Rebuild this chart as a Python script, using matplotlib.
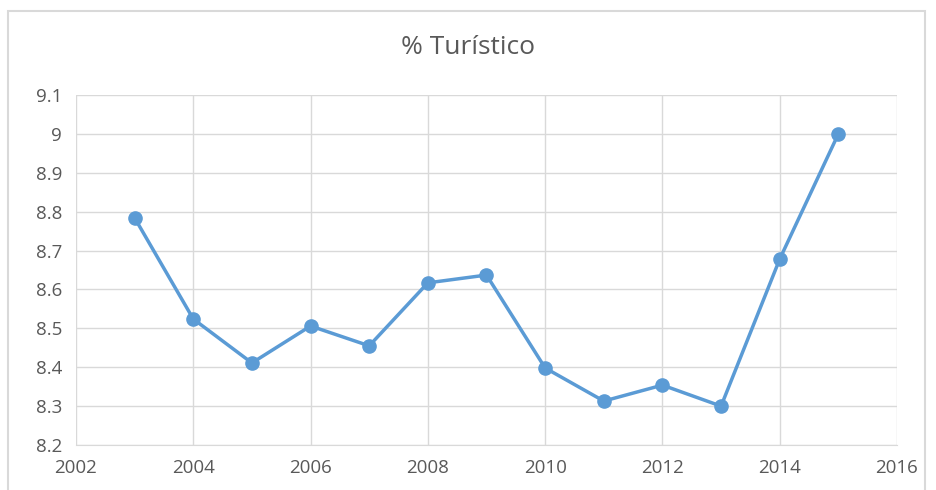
import matplotlib
matplotlib.use('Agg')
import matplotlib.pyplot as plt
from matplotlib.patches import Rectangle

# Data
years = [2003, 2004, 2005, 2006, 2007, 2008, 2009, 2010, 2011, 2012, 2013, 2014, 2015]
pct_turistico = [8.784, 8.524, 8.411, 8.506, 8.455, 8.617, 8.637, 8.398, 8.313, 8.354, 8.300, 8.678, 9.0]
x_ticks = [2002, 2004, 2006, 2008, 2010, 2012, 2014, 2016]
y_ticks = [8.2, 8.3, 8.4, 8.5, 8.6, 8.7, 8.8, 8.9, 9.0, 9.1]
y_tick_labels = ['8.2', '8.3', '8.4', '8.5', '8.6', '8.7', '8.8', '8.9', '9', '9.1']

LINE_COLOR = '#5B9BD5'
TEXT_COLOR = '#595959'
GRID_COLOR = '#D9D9D9'

plt.rcParams['font.family'] = ['Open Sans', 'DejaVu Sans']

fig = plt.figure(figsize=(9.36, 4.9), dpi=100)
# chart area border
fig.patches.append(Rectangle((8 / 936, -0.05), (925 - 8) / 936, 1.05 - 11 / 490,
                             transform=fig.transFigure, fill=False,
                             edgecolor='#D9D9D9', linewidth=1.5))

ax = fig.add_axes([76 / 936, (490 - 445) / 490, (897 - 76) / 936, (445 - 95) / 490])
ax.plot(years, pct_turistico, color=LINE_COLOR, linewidth=2.5,
        marker='o', markersize=9.5, markerfacecolor=LINE_COLOR,
        markeredgecolor=LINE_COLOR, zorder=3)

ax.set_xlim(2002, 2016)
ax.set_ylim(8.2, 9.1)
ax.set_xticks(x_ticks)
ax.set_yticks(y_ticks)
ax.set_yticklabels(y_tick_labels)
ax.grid(True, color=GRID_COLOR, linewidth=1)
ax.set_axisbelow(True)
for side in ['top', 'right', 'left']:
    ax.spines[side].set_visible(False)
ax.spines['bottom'].set_color(GRID_COLOR)
ax.tick_params(length=0, labelsize=13.5, colors=TEXT_COLOR, pad=10)

fig.text(0.5, 1 - 48 / 490, '% Turístico', ha='center', va='center',
         fontsize=19, color=TEXT_COLOR)

fig.savefig('out.png', dpi=100)
